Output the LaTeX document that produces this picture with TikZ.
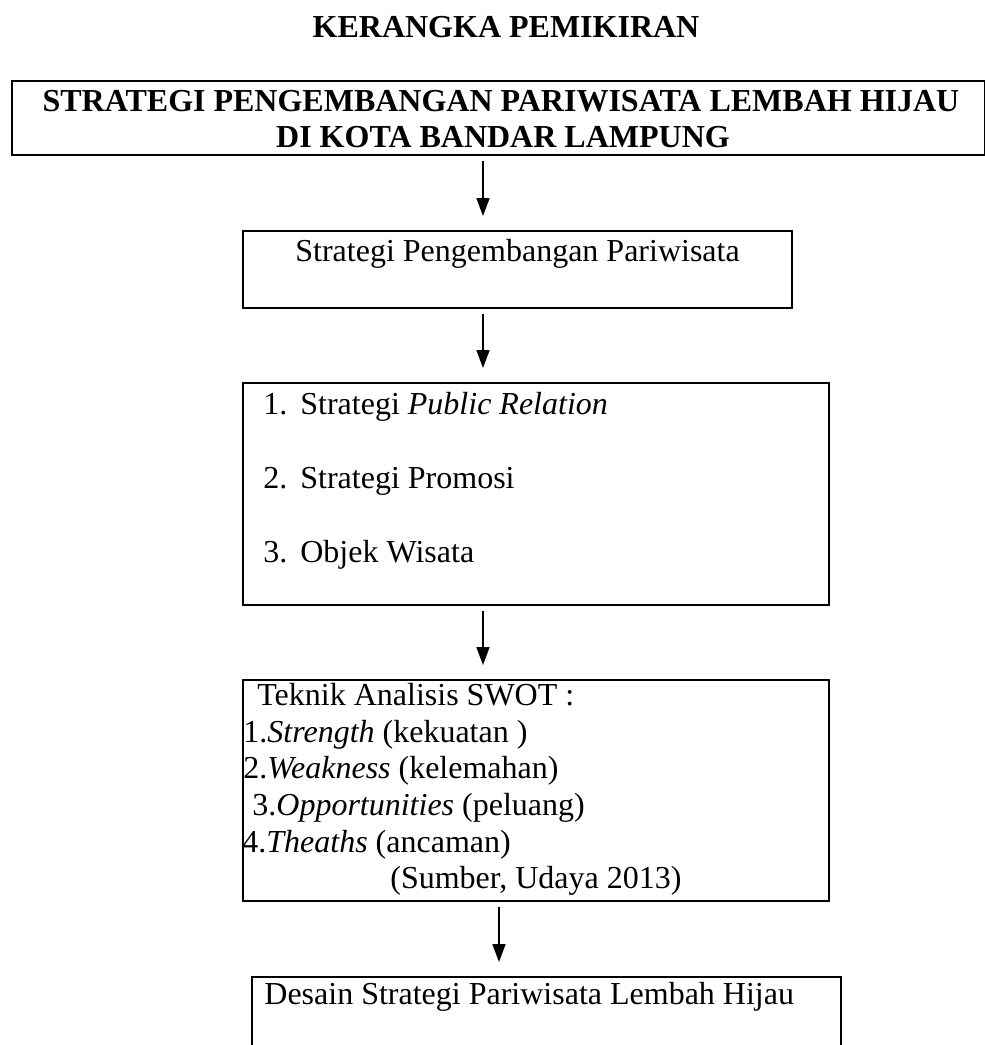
\documentclass[tikz,border=0pt]{standalone}
\usepackage{fontspec}
\setmainfont{Liberation Serif}
\usetikzlibrary{arrows.meta}
\tikzset{
    kotak/.style={
        rectangle,
        draw=black,
        line width=1pt,
        inner sep=0pt,
        anchor=north west
    },
    teks/.style={
        inner sep=0pt,
        anchor=base west,
        font=\fontsize{16}{18}\selectfont
    }
}

\begin{document}
\begin{tikzpicture}[x=0.5pt, y=-0.5pt, >={Triangle[length=9pt, width=6.5pt]}]

    % Gaya untuk judul dan panah
    \tikzset{
        tebal/.style={teks, anchor=base, font=\fontsize{16}{18}\selectfont\bfseries},
        panah/.style={->, line width=0.8pt, shorten <=2.5pt, shorten >=7pt}
    }

    % Batas gambar
    \path[use as bounding box, clip] (0,0) rectangle (985,1045);

    % Judul
    \node[tebal] (judul) at (506,37) {KERANGKA PEMIKIRAN};

    % Kotak-kotak
    \node[kotak, minimum width=486.5pt, minimum height=37pt] (utama) at (11,80) {};
    \node[kotak, minimum width=274.5pt, minimum height=38.5pt] (strategi) at (242,230) {};
    \node[kotak, minimum width=293pt, minimum height=111pt] (poin) at (242,382) {};
    \node[kotak, minimum width=293pt, minimum height=110.5pt] (swot) at (242,679) {};
    \node[kotak, minimum width=294.5pt, minimum height=60pt] (desain) at (251,976) {};

    % Isi kotak utama
    \node[tebal] (utama1) at (501,111) {STRATEGI PENGEMBANGAN PARIWISATA LEMBAH HIJAU};
    \node[tebal] (utama2) at (503,147) {DI KOTA BANDAR LAMPUNG};

    % Isi kotak strategi
    \node[teks] (strategi1) at (295,261) {Strategi Pengembangan Pariwisata};

    % Isi kotak poin
    \node[teks] (poin1) at (263,414) {\makebox[18.5pt][l]{1.}Strategi \textit{Public Relation}};
    \node[teks] (poin2) at (263,488) {\makebox[18.5pt][l]{2.}Strategi Promosi};
    \node[teks] (poin3) at (263,562) {\makebox[18.5pt][l]{3.}Objek Wisata};

    % Isi kotak SWOT
    \node[teks] (swot0) at (257,705) {Teknik Analisis SWOT :};
    \node[teks] (swot1) at (243,742) {1.\textit{Strength} (kekuatan )};
    \node[teks] (swot2) at (243,778) {2.\textit{Weakness} (kelemahan)};
    \node[teks] (swot3) at (252,815) {3.\textit{Opportunities} (peluang)};
    \node[teks] (swot4) at (242,852) {4.\textit{Theaths} (ancaman)};
    \node[teks] (swot5) at (390,888) {(Sumber, Udaya 2013)};

    % Isi kotak desain
    \node[teks] (desain1) at (264,1004) {Desain Strategi Pariwisata Lembah Hijau};

    % Panah antar kotak
    \coordinate (sumbu) at (483,0);
    \coordinate (sumbub) at (499,0);
    \draw[panah] (utama.south -| sumbu) -- (strategi.north -| sumbu);
    \draw[panah] (strategi.south -| sumbu) -- (poin.north -| sumbu);
    \draw[panah] (poin.south -| sumbu) -- (swot.north -| sumbu);
    \draw[panah] (swot.south -| sumbub) -- (desain.north -| sumbub);

\end{tikzpicture}
\end{document}
